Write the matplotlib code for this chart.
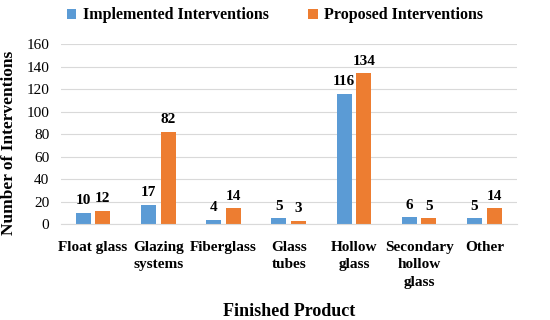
import numpy as np
import matplotlib.pyplot as plt

categories = ["Float glass", "Glazing\nsystems", "Fiberglass", "Glass\ntubes",
              "Hollow\nglass", "Secondary\nhollow\nglass", "Other"]
implemented = [10, 17, 4, 5, 116, 6, 5]
proposed = [12, 82, 14, 3, 134, 5, 14]

plt.rcParams["font.family"] = ["Liberation Serif"]

fig = plt.figure(figsize=(5.5, 3.2), dpi=100)
ax = fig.add_axes([0.11, 0.30, 0.83, 0.562])

x = np.arange(len(categories))
w = 0.23
gap = 0.07
b1 = ax.bar(x - w / 2 - gap / 2, implemented, w, color="#5B9BD5", label="Implemented Interventions")
b2 = ax.bar(x + w / 2 + gap / 2, proposed, w, color="#ED7D31", label="Proposed Interventions")

for bars in (b1, b2):
    ax.bar_label(bars, padding=4, fontsize=11, fontweight="bold")

ax.set_ylim(0, 160)
ax.set_yticks(range(0, 161, 20))
ax.set_xlim(-0.5, len(categories) - 0.5)
ax.set_xticks(x)
ax.set_xticklabels(categories, fontsize=11, fontweight="bold", va="top", linespacing=1.45)
ax.tick_params(axis="both", length=0, labelsize=11)
ax.tick_params(axis="x", pad=12)
ax.tick_params(axis="y", pad=8)
ax.yaxis.grid(True, color="#d9d9d9", linewidth=0.8)
ax.set_axisbelow(True)
for s in ["top", "right", "left"]:
    ax.spines[s].set_visible(False)
ax.spines["bottom"].set_color("#d9d9d9")

ax.set_ylabel("Number of Interventions", fontsize=12.5, fontweight="bold")
ax.yaxis.set_label_coords(-0.095, 0.45)
ax.set_xlabel("Finished Product", fontsize=13, fontweight="bold", labelpad=10)

ax.legend(loc="upper center", bbox_to_anchor=(0.47, 1.285), ncol=2, frameon=False,
          prop={"weight": "bold", "size": 11.5}, handlelength=0.6,
          handleheight=0.6, columnspacing=2.5, handletextpad=0.4)

fig.savefig("out.png", dpi=100)
